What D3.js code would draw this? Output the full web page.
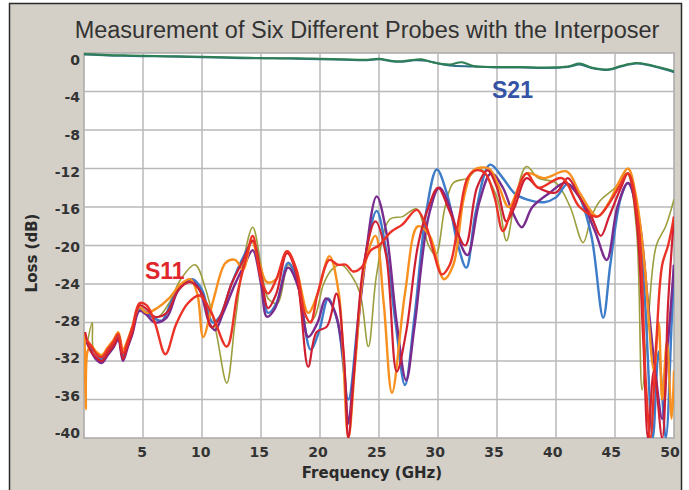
<!DOCTYPE html>
<html>
<head>
<meta charset="utf-8">
<script src="https://cdn.jsdelivr.net/npm/d3@7/dist/d3.min.js"></script>
<style>
  body { margin: 0; background: #fff; }
  svg { display: block; }
</style>
</head>
<body>
<svg width="689" height="490"></svg>
<script>
(function() {
	// axis ticks
	var xTicks = [5, 10, 15, 20, 25, 30, 35, 40, 45, 50];
	var yTicks = [0, -4, -8, -12, -16, -20, -24, -28, -32, -36, -40];

	// S21 (two traces almost on top of each other) [GHz, dB]
	var s21a = [[0,-0.1],[2,-0.2],[4,-0.25],[6,-0.3],[8,-0.35],[10,-0.4],[12,-0.45],[14,-0.5],[16,-0.55],[18,-0.55],[20,-0.6],[22,-0.65],[24,-0.7],[25,-0.6],[26,-0.8],[27,-0.85],[28,-0.7],[28.6,-0.65],[29.5,-0.95],[31,-1.2],[32,-0.95],[33,-1.35],[35,-1.45],[37,-1.45],[39,-1.5],[41,-1.4],[42,-1.1],[43,-1.5],[44.5,-1.7],[45.5,-1.35],[46.8,-1.05],[47.8,-1.2],[48.8,-1.5],[49.5,-1.7],[50,-1.9]];
	var s21b = [[0,-0.15],[2,-0.25],[4,-0.3],[6,-0.35],[8,-0.4],[10,-0.45],[12,-0.5],[14,-0.55],[16,-0.55],[18,-0.6],[20,-0.65],[22,-0.7],[24,-0.75],[25,-0.65],[26,-0.85],[27,-0.9],[28,-0.75],[29,-0.8],[30,-1.1],[31,-1.3],[33,-1.4],[35,-1.5],[37,-1.5],[39,-1.55],[41,-1.45],[42,-1.2],[43,-1.55],[44.5,-1.75],[45.5,-1.4],[46.8,-1.1],[47.8,-1.25],[48.8,-1.55],[49.5,-1.8],[50,-2.0]];

	// S11 of the six probes [GHz, dB]
	var s11Olive = [[0.3,-30],[0.7,-28],[0.8,-30.8],[1.2,-31.2],[1.7,-31.5],[2.2,-30.6],[2.6,-30],[2.9,-29.4],[3.3,-31.4],[3.7,-30.2],[4.1,-28.8],[4.7,-26.6],[5.3,-27],[6.2,-27.5],[7.2,-26],[8.2,-23.5],[9.4,-22],[10.3,-24.5],[11.2,-29],[12.1,-34.3],[12.8,-28],[13.6,-21],[14.3,-18.1],[15,-22],[15.6,-25.5],[16.4,-26],[17.3,-22],[18,-23.5],[18.8,-28],[19.5,-27.5],[20.3,-24],[21,-22.5],[21.8,-22],[22.6,-23],[23.4,-25],[24.1,-30.5],[24.8,-23],[25.9,-17.3],[27,-17],[28.2,-16.2],[29.2,-20],[29.8,-21],[30.6,-16],[31.3,-13.5],[32.5,-13],[33.5,-12],[35,-15],[35.8,-19.5],[36.5,-15.5],[37.5,-11.8],[38.5,-13],[40,-13.5],[41.2,-16],[42.3,-19.7],[43,-17],[43.7,-15.4],[45,-14],[46,-12.5],[46.8,-18],[47.3,-35],[47.8,-28],[48.5,-20],[49.3,-18],[50,-15.2]];
	var s11Blue = [[0.1,-29.5],[0.5,-30.5],[1,-31.2],[1.5,-31.8],[2,-31],[2.5,-30.3],[2.9,-29.3],[3.3,-31.5],[3.7,-30.2],[4.1,-28.8],[4.7,-26.5],[5.3,-27],[6,-27.6],[6.6,-27.8],[7.5,-25.6],[8.5,-23.9],[9.2,-23.5],[10,-24.6],[10.9,-28],[11.5,-27.4],[12.5,-24],[13.5,-21.2],[14.3,-19.6],[15,-23],[15.6,-27],[16.3,-26],[17.3,-21.8],[18.1,-23.8],[19.2,-30.8],[19.9,-29],[20.7,-25.5],[21.5,-28],[22.4,-36],[23.2,-28],[24,-20],[24.8,-16.4],[25.6,-20.5],[26.4,-28],[27.2,-34.5],[28,-27.5],[29,-16.5],[29.9,-12.1],[30.8,-14.8],[31.6,-19.5],[32.4,-22.3],[33.2,-16.5],[34.4,-11.6],[35.5,-13],[36.5,-14.6],[37.5,-15.2],[39,-15.5],[40,-15],[41,-13.6],[42,-15],[43,-19],[44,-27.5],[44.6,-22],[45.5,-15],[46.1,-13.5],[46.8,-16],[47.5,-25],[48.2,-40],[48.7,-31],[49.3,-40],[49.8,-28],[50,-22]];
	var s11Purple = [[0.2,-30],[0.6,-31],[1,-31.8],[1.5,-32.2],[2,-31.4],[2.5,-30.6],[2.9,-29.8],[3.3,-32],[3.7,-30.6],[4.1,-29.2],[4.7,-26.8],[5.3,-27.2],[6,-28],[7,-27.5],[8,-24.6],[9,-23.6],[9.8,-24.6],[10.6,-28],[11.1,-28.8],[11.8,-27],[12.8,-24],[13.6,-22],[14.3,-20.5],[15,-24],[15.5,-27.4],[16.2,-26.5],[17.3,-22.3],[18.2,-24.5],[19,-29.5],[19.8,-28],[20.5,-25.5],[21.3,-27],[22,-32],[22.4,-38.5],[22.8,-34],[23.6,-24],[24.8,-14.9],[25.6,-18.5],[26.5,-28],[27.3,-34],[28,-28.5],[29.2,-17],[30.1,-14],[31,-16],[31.8,-19.5],[32.5,-21],[33.5,-15.5],[34.5,-12.5],[35.5,-14],[36.3,-16.5],[37.1,-18.1],[38,-16],[39.5,-14.5],[40.8,-13.5],[42,-15],[43.3,-18.5],[44.3,-21.5],[45.2,-16],[46.1,-13.5],[47,-17],[47.8,-26],[48.5,-34],[49,-38],[49.5,-30],[50,-22]];
	var s11Orange = [[0.05,-29],[0.15,-37],[0.3,-31],[0.6,-30.4],[1,-31],[1.5,-31.4],[2,-30.6],[2.5,-29.8],[2.9,-29],[3.3,-30.8],[3.7,-29.8],[4.1,-28.4],[4.7,-26.4],[5.3,-27],[6.2,-26.5],[7.2,-25.5],[8.2,-24],[9,-23.5],[9.6,-25],[10.1,-29.5],[11,-25.5],[12,-21.8],[12.8,-21.5],[13.5,-22.5],[14.2,-19.5],[14.9,-22],[15.5,-23.8],[16.3,-23.5],[17.2,-20.6],[18,-22.5],[19,-27],[19.8,-25],[20.8,-21.1],[21.6,-25],[22.4,-40],[23,-32],[23.8,-22],[24.7,-19],[25.4,-26],[26.1,-35.3],[27.2,-25],[28.3,-18],[29.3,-19],[30.5,-23.5],[31.3,-22],[32.2,-15],[33,-12.2],[34.3,-12],[35.2,-14],[36,-16],[37.5,-12.5],[39,-13],[40.9,-12.3],[42,-14.5],[43.5,-17],[44.5,-15.5],[45.3,-13.5],[46.1,-12],[46.8,-15],[47.5,-22],[48.3,-33],[48.7,-28],[49,-36],[49.4,-30],[49.8,-38],[50,-33]];
	var s11Crimson = [[0.1,-29],[0.5,-30.8],[1,-31.6],[1.5,-32],[2,-31.2],[2.5,-30.4],[2.9,-29.6],[3.3,-31.8],[3.7,-30.4],[4.1,-29],[4.7,-26.2],[5.3,-26.6],[6,-27.4],[7,-27],[8,-24.6],[9,-23.8],[10,-25],[10.8,-28.5],[11.5,-27.5],[12.5,-24],[13.5,-21.5],[14.3,-19.5],[15,-23],[15.6,-26.5],[16.3,-25],[17.2,-20.8],[18,-23],[19,-32.6],[19.7,-29],[20.6,-28.4],[21.4,-25],[22,-31],[22.4,-40],[22.9,-33],[23.7,-22],[24.7,-17.5],[25.6,-21],[26.5,-33.1],[27.3,-29],[28.3,-20],[29.2,-16],[30,-14],[31,-16.5],[32.3,-20],[33.3,-14],[34.2,-12.2],[35,-14],[35.8,-17.5],[36.5,-16],[37.5,-13],[38.5,-14],[40,-14.5],[41,-13],[42,-15],[43,-17],[43.8,-19],[44.5,-17],[45.5,-14],[46.1,-12.5],[46.8,-17],[47.4,-30],[47.8,-40],[48.3,-33],[49,-40],[49.5,-26],[50,-17]];
	var s11Red = [[0.2,-29.8],[0.6,-30.4],[1,-31.2],[1.5,-31.6],[2,-30.8],[2.5,-30],[2.9,-29.2],[3.3,-31.2],[3.7,-30],[4.1,-28.5],[4.7,-26],[5.3,-26.2],[6,-28],[6.9,-31.3],[7.8,-28.2],[8.8,-26],[9.8,-25.2],[10.8,-27],[12.1,-30.5],[13,-25],[13.8,-21],[14.3,-19],[15,-23.5],[15.6,-25],[16.3,-23.5],[17.2,-20.6],[18,-22.5],[18.7,-27],[19.2,-28],[19.8,-25],[20.8,-21.5],[21.5,-22],[22.2,-22],[22.8,-22.7],[23.5,-22.3],[24.3,-20.5],[25,-20],[26,-18.6],[27,-17.8],[28.2,-16.3],[29,-18],[29.7,-21],[30.3,-23],[31,-22],[31.8,-17],[32.5,-13],[33.2,-12.2],[34,-12.5],[34.8,-15],[35.5,-18.5],[36.3,-16],[37.5,-12.5],[38.5,-14],[40.5,-13],[42,-16],[43.5,-17],[44.3,-16],[45.3,-14],[46.1,-12.5],[47,-18],[47.6,-34],[48,-40],[48.5,-30],[49,-22],[49.5,-20],[50,-17]];

	var svg = d3.select("svg");
	var left = 84, right = 674, top = 53, bottom = 438;

	var x = d3.scaleLinear().domain([0, 50]).range([left, right]);
	var y = d3.scaleLinear().domain([0, -40]).range([top, bottom]);
	// tick labels sit a little inside the grid in the original
	var xLab = d3.scaleLinear().domain([5, 50]).range([142, 670]);
	var yLab = d3.scaleLinear().domain([0, -40]).range([60, 433]);

	// grey panel with dark frame
	svg.append("rect").attr("x", 9.5).attr("y", 3.5).attr("width", 672).attr("height", 500)
	  .style("fill", "#d4d0c8").style("stroke", "#2a2a2a").style("stroke-width", "1.5px");

	svg.append("text").attr("x", 367).attr("y", 38).attr("text-anchor", "middle")
	  .style("font-family", "Liberation Sans, Arial, sans-serif").style("font-size", "23.5px")
	  .style("fill", "#333").text("Measurement of Six Different Probes with the Interposer");

	svg.append("rect").attr("x", left).attr("y", top).attr("width", right - left).attr("height", bottom - top)
	  .style("fill", "#fff").style("stroke", "#a9a9a9").style("stroke-width", "1.5px");

	// grid
	svg.append("g").selectAll("line").data(xTicks.slice(0, -1)).enter().append("line")
	  .attr("x1", function(d) { return x(d); }).attr("x2", function(d) { return x(d); })
	  .attr("y1", top).attr("y2", bottom)
	  .style("stroke", "#b9b9b9").style("stroke-width", "1.5px");
	svg.append("g").selectAll("line").data(yTicks.slice(1, -1)).enter().append("line")
	  .attr("x1", left).attr("x2", right)
	  .attr("y1", function(d) { return y(d); }).attr("y2", function(d) { return y(d); })
	  .style("stroke", "#b9b9b9").style("stroke-width", "1.5px");

	// tick labels
	svg.append("g").selectAll("text").data(xTicks).enter().append("text")
	  .attr("x", function(d) { return xLab(d); }).attr("y", 457).attr("text-anchor", "middle")
	  .style("font-family", "DejaVu Sans, Verdana, sans-serif").style("font-weight", "bold").style("font-size", "14px")
	  .style("fill", "#333").text(function(d) { return d; });
	svg.append("g").selectAll("text").data(yTicks).enter().append("text")
	  .attr("x", 80).attr("y", function(d) { return yLab(d) + 5; }).attr("text-anchor", "end")
	  .style("font-family", "DejaVu Sans, Verdana, sans-serif").style("font-weight", "bold").style("font-size", "14px")
	  .style("fill", "#333").text(function(d) { return d; });

	svg.append("text").attr("x", 372).attr("y", 478).attr("text-anchor", "middle")
	  .style("font-family", "DejaVu Sans, Verdana, sans-serif").style("font-weight", "bold").style("font-size", "15px")
	  .style("fill", "#2a2a2a").text("Frequency (GHz)");
	svg.append("text").attr("transform", "translate(37,253) rotate(-90)").attr("text-anchor", "middle")
	  .style("font-family", "DejaVu Sans, Verdana, sans-serif").style("font-weight", "bold").style("font-size", "15px")
	  .style("fill", "#2a2a2a").text("Loss (dB)");

	// traces
	svg.append("clipPath").attr("id", "plot").append("rect")
	  .attr("x", left).attr("y", top).attr("width", right - left).attr("height", bottom - top);

	var line = d3.line()
	  .x(function(d) { return x(d[0]); })
	  .y(function(d) { return y(d[1]); })
	  .curve(d3.curveCatmullRom.alpha(0.5));

	var traces = [
	  { pts: s11Olive, color: "#9c9e3e", w: 1.6 },
	  { pts: s11Blue, color: "#3d7cc9", w: 2.4 },
	  { pts: s11Purple, color: "#7a2c8e", w: 2.4 },
	  { pts: s11Orange, color: "#f7901e", w: 2.4 },
	  { pts: s11Crimson, color: "#cf1f33", w: 2.2 },
	  { pts: s11Red, color: "#ea3326", w: 2.4 },
	  { pts: s21b, color: "#2e6f86", w: 2 },
	  { pts: s21a, color: "#2f7f55", w: 2 }
	];

	svg.append("g").attr("clip-path", "url(#plot)")
	  .selectAll("path").data(traces).enter().append("path")
	  .attr("d", function(d) { return line(d.pts); })
	  .style("fill", "none")
	  .style("stroke", function(d) { return d.color; })
	  .style("stroke-width", function(d) { return d.w + "px"; })
	  .style("stroke-linejoin", "round");

	svg.append("text").attr("x", 492).attr("y", 98)
	  .style("font-family", "Liberation Sans, Arial, sans-serif").style("font-weight", "bold").style("font-size", "23px")
	  .style("fill", "#3553a6").text("S21");
	svg.append("text").attr("x", 145).attr("y", 279)
	  .style("font-family", "Liberation Sans, Arial, sans-serif").style("font-weight", "bold").style("font-size", "23px")
	  .style("fill", "#e0262b").text("S11");
})();
</script>
</body>
</html>
